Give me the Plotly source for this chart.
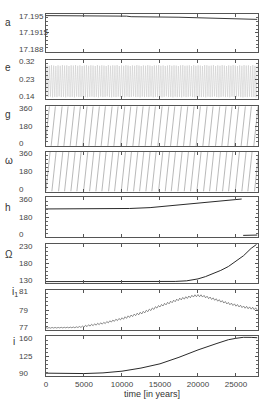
import plotly.graph_objects as go

# ---------------- data ----------------
a_t = [0, 2500, 5000, 7500, 10000, 10600, 11200, 13000, 15000, 17500, 20000, 22500, 25000, 27000, 27800]
a_vals = [17.1947, 17.1947, 17.1947, 17.1947, 17.1947, 17.1946, 17.1945, 17.1945, 17.1944, 17.1944,
          17.1943, 17.1942, 17.1941, 17.1940, 17.1940]

e_step = 144
e_vals = [
    0.151, 0.294, 0.150, 0.292, 0.152, 0.295, 0.149, 0.293, 0.151, 0.291, 0.150, 0.294, 0.153, 0.292, 0.150, 0.295, 0.151, 0.293, 0.149, 0.294,
    0.152, 0.291, 0.150, 0.294, 0.151, 0.293, 0.149, 0.295, 0.152, 0.292, 0.150, 0.294, 0.151, 0.291, 0.153, 0.293, 0.150, 0.295, 0.149, 0.292,
    0.151, 0.294, 0.152, 0.293, 0.150, 0.291, 0.151, 0.295, 0.149, 0.292, 0.152, 0.294, 0.150, 0.293, 0.151, 0.291, 0.153, 0.295, 0.150, 0.292,
    0.149, 0.294, 0.151, 0.293, 0.150, 0.295, 0.152, 0.291, 0.150, 0.294, 0.151, 0.292, 0.149, 0.295, 0.152, 0.293, 0.150, 0.291, 0.151, 0.294,
    0.153, 0.292, 0.150, 0.295, 0.151, 0.293, 0.149, 0.291, 0.152, 0.294, 0.150, 0.292, 0.151, 0.295, 0.150, 0.293, 0.152, 0.291, 0.149, 0.294,
    0.151, 0.293, 0.150, 0.295, 0.152, 0.292, 0.149, 0.294, 0.151, 0.291, 0.153, 0.293, 0.150, 0.295, 0.151, 0.292, 0.149, 0.294, 0.152, 0.293,
    0.150, 0.291, 0.151, 0.294, 0.149, 0.295, 0.152, 0.292, 0.150, 0.293, 0.151, 0.294, 0.153, 0.291, 0.150, 0.295, 0.149, 0.292, 0.151, 0.294,
    0.152, 0.293, 0.150, 0.291, 0.151, 0.295, 0.149, 0.294, 0.152, 0.292, 0.150, 0.293, 0.151, 0.295, 0.153, 0.291, 0.150, 0.294, 0.149, 0.292,
    0.151, 0.295, 0.152, 0.293, 0.150, 0.291, 0.151, 0.294, 0.149, 0.292, 0.152, 0.295, 0.150, 0.293, 0.151, 0.291, 0.153, 0.294, 0.150, 0.292,
    0.149, 0.295, 0.151, 0.293, 0.150, 0.294, 0.152, 0.291, 0.150, 0.295, 0.151, 0.292, 0.149, 0.294,
]
e_t = [k * e_step for k in range(len(e_vals))]

# g: times at which each sweep leaves 0 deg and reaches 360 deg
g_t_zero = [-110, 680, 1560, 2350, 3180, 3970, 4850, 5640, 6470, 7260, 8140, 8930, 9810, 10600, 11430, 12220,
            13050, 13840, 14720, 15600, 16390, 17260, 18100, 18930, 19760, 20640, 21430, 22310, 23140, 23930,
            24810, 25680, 26470, 27350]
g_t_full = [450, 1240, 2120, 2910, 3740, 4530, 5410, 6200, 7030, 7820, 8700, 9490, 10370, 11160, 11990, 12780,
            13610, 14400, 15280, 16160, 16950, 17820, 18660, 19490, 20320, 21200, 21990, 22870, 23700, 24490,
            25370, 26240, 27030, 27910]
# omega: same kind of sweeps, slightly later
w_t_zero = [-20, 770, 1650, 2440, 3270, 4060, 4940, 5730, 6560, 7350, 8230, 9020, 9900, 10690, 11520, 12310,
            13140, 13930, 14810, 15690, 16480, 17350, 18190, 19020, 19850, 20730, 21520, 22400, 23230, 24020,
            24900, 25770, 26560, 27440]
w_t_full = [540, 1330, 2210, 3000, 3830, 4620, 5500, 6290, 7120, 7910, 8790, 9580, 10460, 11250, 12080, 12870,
            13700, 14490, 15370, 16250, 17040, 17910, 18750, 19580, 20410, 21290, 22080, 22960, 23790, 24580,
            25460, 26330, 27120, 28000]
angle_low, angle_high = 0, 360

h_t = [0, 5000, 9500, 11000, 13700, 16500, 19800, 22900, 25750, None, 25950, 27800]
h_vals = [256, 256, 257, 260, 268, 285, 306, 327, 346, None, 16, 19]

Om_t = [0, 5000, 10000, 15000, 17000, 18500, 20000, 21000, 22000, 23000, 24000, 25000, 26000, 27000, 27700]
Om_vals = [133, 133, 133, 133, 133.5, 135, 140, 146, 153, 162, 172, 186, 200, 219, 229]

i1_step = 200
i1_vals = [
    77.27, 77.22, 77.28, 77.22, 77.29, 77.23, 77.29, 77.23, 77.29, 77.24,
    77.30, 77.24, 77.30, 77.25, 77.31, 77.25, 77.32, 77.26, 77.33, 77.26,
    77.35, 77.28, 77.38, 77.29, 77.42, 77.31, 77.50, 77.37, 77.55, 77.42,
    77.60, 77.46, 77.65, 77.51, 77.70, 77.56, 77.75, 77.61, 77.79, 77.67,
    77.87, 77.74, 77.94, 77.82, 78.01, 77.89, 78.10, 77.96, 78.17, 78.03,
    78.24, 78.09, 78.34, 78.18, 78.43, 78.27, 78.51, 78.36, 78.60, 78.45,
    78.69, 78.53, 78.78, 78.61, 78.87, 78.72, 78.98, 78.84, 79.09, 78.95,
    79.20, 79.06, 79.33, 79.19, 79.44, 79.30, 79.55, 79.40, 79.66, 79.51,
    79.76, 79.61, 79.87, 79.72, 79.97, 79.82, 80.07, 79.92, 80.17, 80.00,
    80.24, 80.07, 80.31, 80.14, 80.38, 80.21, 80.45, 80.28, 80.50, 80.31,
    80.52, 80.31, 80.50, 80.28, 80.44, 80.20, 80.36, 80.12, 80.28, 80.04,
    80.20, 79.96, 80.11, 79.87, 80.02, 79.78, 79.93, 79.69, 79.84, 79.60,
    79.75, 79.52, 79.68, 79.45, 79.61, 79.38, 79.54, 79.31, 79.47, 79.24,
    79.40, 79.18, 79.36, 79.13, 79.31, 79.09, 79.27, 79.04, 79.22, 79.00,
]
i1_t = [k * i1_step for k in range(len(i1_vals))]

i_t = [0, 2500, 5000, 7500, 10000, 12500, 15000, 17500, 20000, 22500, 24000, 25000, 26000, 27000, 27800]
i_vals = [95, 94.5, 94.3, 95.5, 98.5, 104, 111.5, 123, 136, 147.5, 154, 156.5, 158.3, 158.2, 157.5]

x_ticks = [0, 5000, 10000, 15000, 20000, 25000]
x_ticktext = ["0", "5000", "10000", "15000", "20000", "25000"]
x_range = [0, 27900]

names = ["a", "e", "g", "ω", "h", "Ω", "i<sub>1</sub>", "i"]
y_ticks = [[17.188, 17.1915, 17.195], [0.14, 0.23, 0.32], [0, 180, 360], [0, 180, 360],
           [0, 180, 360], [130, 180, 230], [77, 79, 81], [90, 125, 160]]
y_ticktext = [["17.188", "17.1915", "17.195"], ["0.14", "0.23", "0.32"], ["0", "180", "360"],
              ["0", "180", "360"], ["0", "180", "360"], ["130", "180", "230"], ["77", "79", "81"],
              ["90", "125", "160"]]


def sweeps(t0, t1, lo, hi):
    xs, ys = [], []
    for a0, a1 in zip(t0, t1):
        xs += [a0, a1, None]
        ys += [lo, hi, None]
    return xs, ys


# ---------------- figure ----------------
W, H = 273, 409
L, R, T, B = 46, 15, 14, 30
ph = H - T - B
pw = W - L - R
panels_px = [(14, 52), (60, 100), (107, 147), (153, 193), (199, 239), (246, 285), (292, 333), (339, 379)]

fig = go.Figure()
dark = "#2a2a2a"
g_x, g_y = sweeps(g_t_zero, g_t_full, angle_low, angle_high)
w_x, w_y = sweeps(w_t_zero, w_t_full, angle_low, angle_high)
series = [
    (a_t, a_vals, dict(color="#3a3a3a", width=1)),
    (e_t, e_vals, dict(color="#c4c4c4", width=0.5)),
    (g_x, g_y, dict(color="#8a8a8a", width=0.6)),
    (w_x, w_y, dict(color="#8a8a8a", width=0.6)),
    (h_t, h_vals, dict(color=dark, width=1)),
    (Om_t, Om_vals, dict(color=dark, width=1)),
    (i1_t, i1_vals, dict(color="#444", width=0.6)),
    (i_t, i_vals, dict(color=dark, width=1)),
]
for k, (xs, ys, ln) in enumerate(series):
    sfx = "" if k == 0 else str(k + 1)
    fig.add_trace(go.Scatter(x=xs, y=ys, mode="lines", line=ln, xaxis="x" + sfx, yaxis="y" + sfx,
                             showlegend=False, hoverinfo="skip", connectgaps=False))

font_fam = "Liberation Sans, Arial, sans-serif"
annotations = []
name_off = [8, 8, 8, 9, 10, 10, 2, 5]
name_x = [3, 3, 3, 3, 3, 3, 10, 11]
for k in range(8):
    sfx = "" if k == 0 else str(k + 1)
    top, bot = panels_px[k]
    d0 = (T + ph - bot) / ph
    d1 = (T + ph - top) / ph
    lo, hi = y_ticks[k][0], y_ticks[k][-1]
    fig.layout["yaxis" + sfx] = dict(
        domain=[d0, d1], anchor="x" + sfx, range=[lo, hi],
        tickmode="array", tickvals=y_ticks[k], showticklabels=False,
        ticks="inside", ticklen=3, tickcolor="#555", tickwidth=0.8,
        minor=dict(ticks="inside", ticklen=2, tickcolor="#666", dtick=(hi - lo) / 10, tick0=lo),
        showline=True, linecolor="#555", linewidth=1, mirror="ticks",
        showgrid=False, zeroline=False, fixedrange=True,
    )
    fig.layout["xaxis" + sfx] = dict(
        domain=[0, 1], anchor="y" + sfx, range=x_range,
        tickmode="array", tickvals=x_ticks, ticktext=x_ticktext, showticklabels=(k == 7),
        ticks="inside", ticklen=3, tickcolor="#555", tickwidth=0.8,
        showline=True, linecolor="#555", linewidth=1, mirror="ticks",
        showgrid=False, zeroline=False, fixedrange=True,
        tickfont=dict(size=8, color="#444", family=font_fam),
    )
    if k > 0:
        fig.layout["xaxis" + sfx]["matches"] = "x"
    # tick labels (left-aligned like the original)
    shifts = [2.5, 0, -2]
    for j, (v, txt) in enumerate(zip(y_ticks[k], y_ticktext[k])):
        annotations.append(dict(
            text=txt, x=(17 - L) / pw, xref="paper", xanchor="left",
            y=v, yref="y" + sfx, yanchor="middle", yshift=shifts[j],
            showarrow=False, font=dict(size=8, color="#444", family=font_fam)))
    annotations.append(dict(
        text=names[k], x=(name_x[k] - L) / pw, xref="paper", xanchor="left",
        y=1, yref="y" + sfx + " domain", yanchor="middle", yshift=-name_off[k],
        showarrow=False, font=dict(size=10, color="#333", family=font_fam)))

fig.layout["xaxis8"]["title"] = dict(text="time [in years]", standoff=2,
                                      font=dict(size=9, color="#333", family=font_fam))

fig.update_layout(
    width=W, height=H, autosize=False,
    margin=dict(l=L, r=R, t=T, b=B, pad=0),
    paper_bgcolor="white", plot_bgcolor="white",
    annotations=annotations, showlegend=False,
)

fig.write_html("out.html", config={"displayModeBar": False},
               post_script="document.body.style.margin='0';")
